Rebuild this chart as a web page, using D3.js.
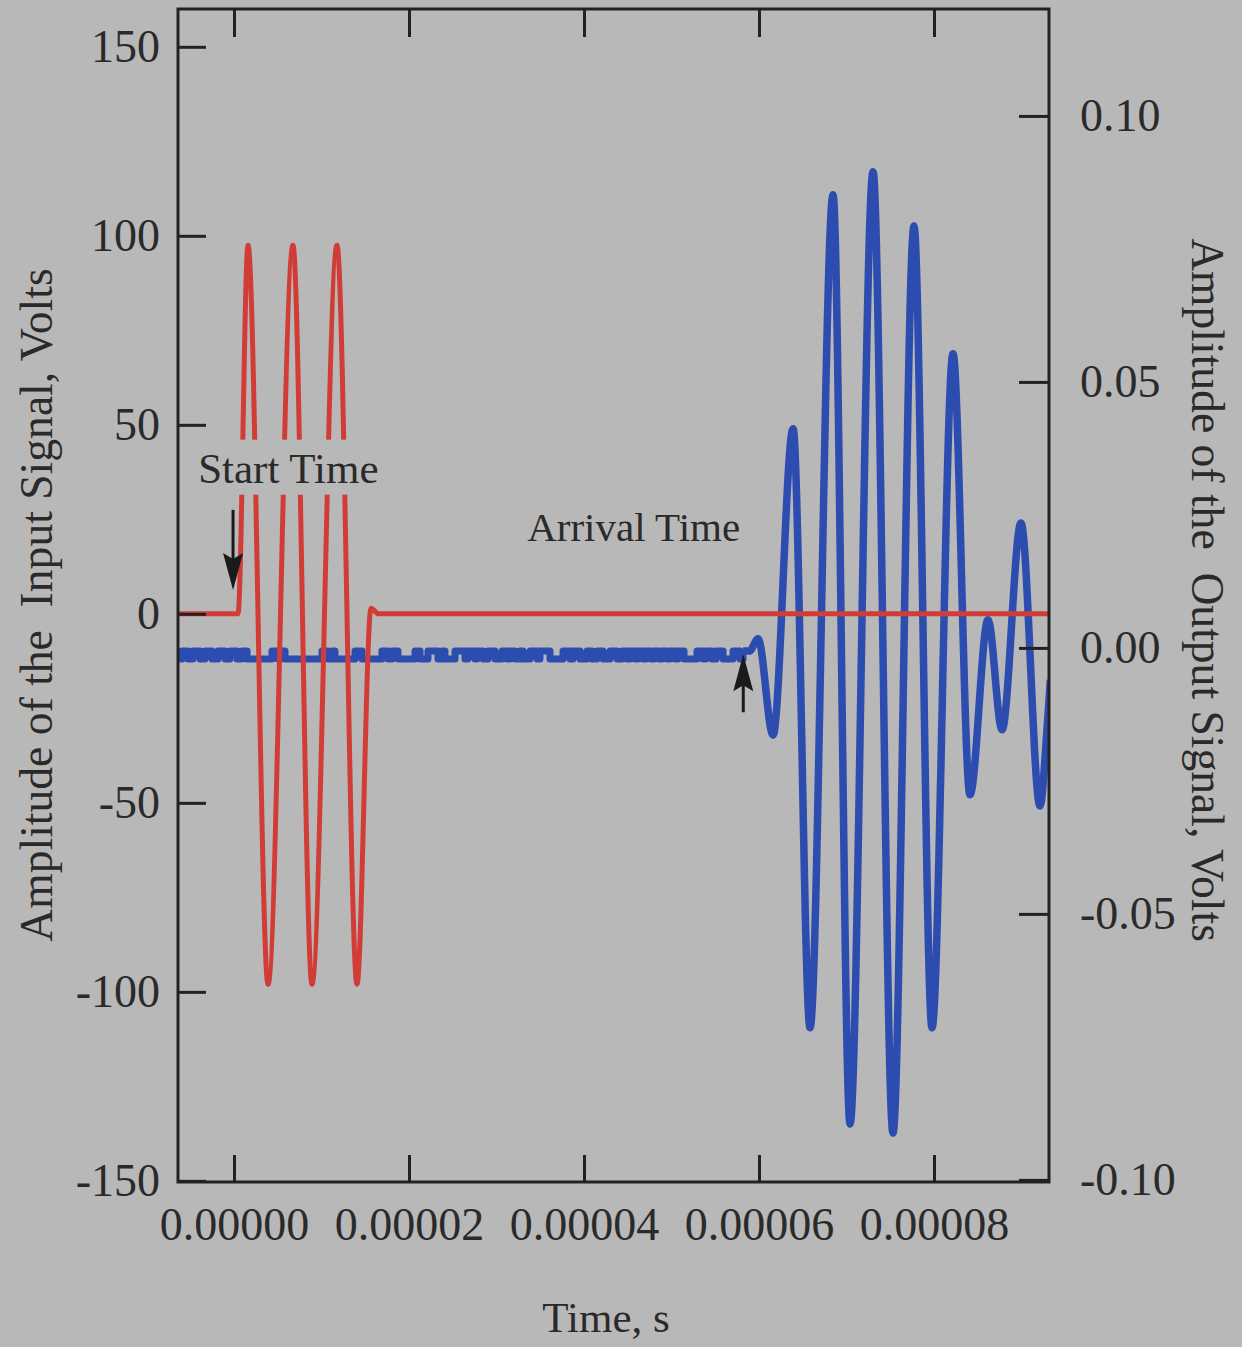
<!DOCTYPE html>
<html>
<head>
<meta charset="utf-8">
<script src="https://cdn.jsdelivr.net/npm/d3@7"></script>
<style>
  html, body { margin: 0; padding: 0; background: #ffffff; overflow: hidden; }
  svg { display: block; }
  text { font-family: "Liberation Serif", "Times New Roman", serif; fill: #2a2a2a; }
  .title { white-space: pre; }
</style>
</head>
<body>
<svg id="mychart" width="1250" height="1347"></svg>
<script>
// input signal (red), time in microseconds, amplitude in volts (left axis)
const redTimeUs = [-6.4, 0.46, 1.6, 3.89, 6.74, 8.91, 11.77, 14.06, 15.66, 16.5, 93.2];
const redVolts = [0, 0, 97.5, -98, 97.5, -98, 97.5, -98, 1.5, 0, 0];

// output signal (blue) before arrival: two-level noise, high pulses [start, end] in microseconds
const noiseLow = -0.0021;
const noiseHigh = -0.0006;
const noisePulsesUs = [
  [-5.94, -5.26], [-4.69, -3.89], [-3.31, -2.51], [-1.83, -1.03], [-0.46, 0.34], [0.91, 1.49],
  [4.34, 5.03], [5.26, 5.83], [10.06, 10.74], [11.2, 11.54], [13.83, 14.63], [16.91, 17.6],
  [18.06, 18.74], [20.69, 21.26], [22.17, 23.31], [23.77, 24.11], [25.26, 26.4], [26.74, 27.54],
  [27.77, 28.46], [29.03, 29.83], [30.63, 31.2], [31.54, 32.11], [32.69, 33.03], [33.83, 34.63],
  [34.97, 36.11], [37.6, 38.4], [38.74, 39.54], [40.34, 40.91], [41.49, 42.17], [42.97, 43.77],
  [44.34, 44.91], [45.26, 45.83], [46.17, 46.74], [47.09, 47.66], [48.0, 48.57], [48.91, 49.49],
  [49.83, 50.4], [50.74, 51.43], [52.91, 53.6], [53.94, 54.63], [55.09, 55.89], [57.03, 57.83]
];
const noiseStartUs = -6.4;

// output signal (blue) after arrival, right axis volts
const blueTimeUs = [58.17, 58.9, 59.9, 61.6, 63.89, 65.83, 68.46, 70.4, 73.03, 75.31, 77.71, 79.77,
  82.17, 84.11, 86.17, 87.77, 89.94, 92.11, 92.91, 93.3];
const blueVolts = [-0.0006, -0.0006, 0.0017, -0.0164, 0.0412, -0.0714, 0.0852, -0.0895, 0.0895, -0.0912,
  0.0793, -0.0714, 0.0553, -0.0276, 0.0053, -0.0154, 0.0235, -0.0297, -0.0154, -0.006];

const timeTicks = [0, 0.00002, 0.00004, 0.00006, 0.00008];
const inputTicks = [-150, -100, -50, 0, 50, 100, 150];
const outputTicks = [-0.10, -0.05, 0.00, 0.05, 0.10];

const svg = d3.select("#mychart");
const margin = { top: 9, right: 201, bottom: 165, left: 178 },
  width = 1250,
  height = 1347,
  innerWidth = width - margin.left - margin.right,
  innerHeight = height - margin.top - margin.bottom;

svg.append("rect").attr("width", 1242).attr("height", height).attr("fill", "#b8b8b8");

const g = svg.append("g").attr("transform", `translate(${margin.left},${margin.top})`);

const xScale = d3.scaleLinear().domain([-6.4e-6, 9.314e-5]).range([0, innerWidth]);
const yLeft = d3.scaleLinear().domain([-150.3, 160]).range([innerHeight, 0]);
const yRight = d3.scaleLinear().domain([-0.1004, 0.1201]).range([innerHeight, 0]);

// build series
const redData = redTimeUs.map((t, i) => ({ t: t * 1e-6, v: redVolts[i] }));
const noiseData = [{ t: noiseStartUs * 1e-6, v: noiseLow }];
noisePulsesUs.forEach(([a, b]) => {
  noiseData.push({ t: a * 1e-6, v: noiseHigh });
  noiseData.push({ t: b * 1e-6, v: noiseLow });
});
noiseData.push({ t: blueTimeUs[0] * 1e-6, v: noiseHigh });
const blueData = blueTimeUs.map((t, i) => ({ t: t * 1e-6, v: blueVolts[i] }));

g.append("clipPath").attr("id", "plotclip")
  .append("rect").attr("width", innerWidth).attr("height", innerHeight);

const plot = g.append("g").attr("clip-path", "url(#plotclip)");

const noiseLine = d3.line().x((d) => xScale(d.t)).y((d) => yRight(d.v)).curve(d3.curveStepAfter);
const blueLine = d3.line().x((d) => xScale(d.t)).y((d) => yRight(d.v)).curve(d3.curveMonotoneX);
const redLine = d3.line().x((d) => xScale(d.t)).y((d) => yLeft(d.v)).curve(d3.curveMonotoneX);

plot.append("path").attr("d", noiseLine(noiseData))
  .attr("fill", "none").attr("stroke", "#2c4cb0").attr("stroke-width", 7).attr("stroke-linejoin", "round");
plot.append("path").attr("d", blueLine(blueData))
  .attr("fill", "none").attr("stroke", "#2c4cb0").attr("stroke-width", 7.5).attr("stroke-linejoin", "round");
plot.append("path").attr("d", redLine(redData))
  .attr("fill", "none").attr("stroke", "#d23c36").attr("stroke-width", 5).attr("stroke-linejoin", "round");

// frame
g.append("rect").attr("width", innerWidth).attr("height", innerHeight)
  .attr("fill", "none").attr("stroke", "#222").attr("stroke-width", 3);

// axes, ticks pointing inward
const styleAxis = (sel) => {
  sel.attr("font-size", 46).attr("font-family", null);
  sel.select(".domain").remove();
  sel.selectAll("line").attr("stroke", "#222").attr("stroke-width", 3);
  sel.selectAll("text").attr("fill", "#2a2a2a");
};

g.append("g").attr("transform", `translate(0,${innerHeight})`)
  .call(d3.axisBottom(xScale).tickValues(timeTicks).tickSize(-27).tickPadding(25).tickFormat((d) => d.toFixed(5)))
  .call(styleAxis);
g.append("g")
  .call(d3.axisTop(xScale).tickValues(timeTicks).tickSize(-28).tickFormat(""))
  .call(styleAxis)
  .call((sel) => sel.selectAll("text").remove());
g.append("g")
  .call(d3.axisLeft(yLeft).tickValues(inputTicks).tickSize(-28).tickPadding(18).tickFormat((d) => String(d)))
  .call(styleAxis);
g.append("g").attr("transform", `translate(${innerWidth},0)`)
  .call(d3.axisRight(yRight).tickValues(outputTicks).tickSize(-30).tickPadding(31).tickFormat((d) => d.toFixed(2)))
  .call(styleAxis);

// annotations
const arrow = (x, y0, y1) => {
  const dir = Math.sign(y1 - y0);
  g.append("line").attr("x1", x).attr("x2", x).attr("y1", y0).attr("y2", y1 - dir * 30)
    .attr("stroke", "#1a1a1a").attr("stroke-width", 3);
  g.append("path")
    .attr("d", `M${x},${y1} L${x - 10},${y1 - dir * 37} L${x},${y1 - dir * 31} L${x + 10},${y1 - dir * 37} Z`)
    .attr("fill", "#1a1a1a");
};
arrow(xScale(-0.11e-6), yLeft(27.5), yLeft(6.3));
arrow(xScale(58.2e-6), yRight(-0.0121), yRight(-0.0012));

// labels sit on a patch of background that hides the lines behind them
const note = (txt, t, v, size) => {
  const label = g.append("g").attr("transform", `translate(${xScale(t)},${yLeft(v)})`);
  const bg = label.append("rect").attr("fill", "#b8b8b8");
  const tx = label.append("text").attr("font-size", size).text(txt);
  const bb = tx.node().getBBox();
  bg.attr("x", bb.x - 2).attr("y", bb.y - 5).attr("width", bb.width + 4).attr("height", bb.height + 8);
};
note("Start Time", -4.1e-6, 34.7, 43);
note("Arrival Time", 33.5e-6, 19.3, 41);

// axis titles
svg.append("text").attr("class", "title")
  .attr("transform", "translate(52,605) rotate(-90)")
  .attr("text-anchor", "middle").attr("font-size", 45.6)
  .text("Amplitude of the  Input Signal, Volts");
svg.append("text").attr("class", "title")
  .attr("transform", "translate(1192,590) rotate(90)")
  .attr("text-anchor", "middle").attr("font-size", 45.6)
  .text("Amplitude of the  Output Signal, Volts");
svg.append("text")
  .attr("x", 606).attr("y", 1332)
  .attr("text-anchor", "middle").attr("font-size", 43)
  .text("Time, s");
</script>
</body>
</html>
